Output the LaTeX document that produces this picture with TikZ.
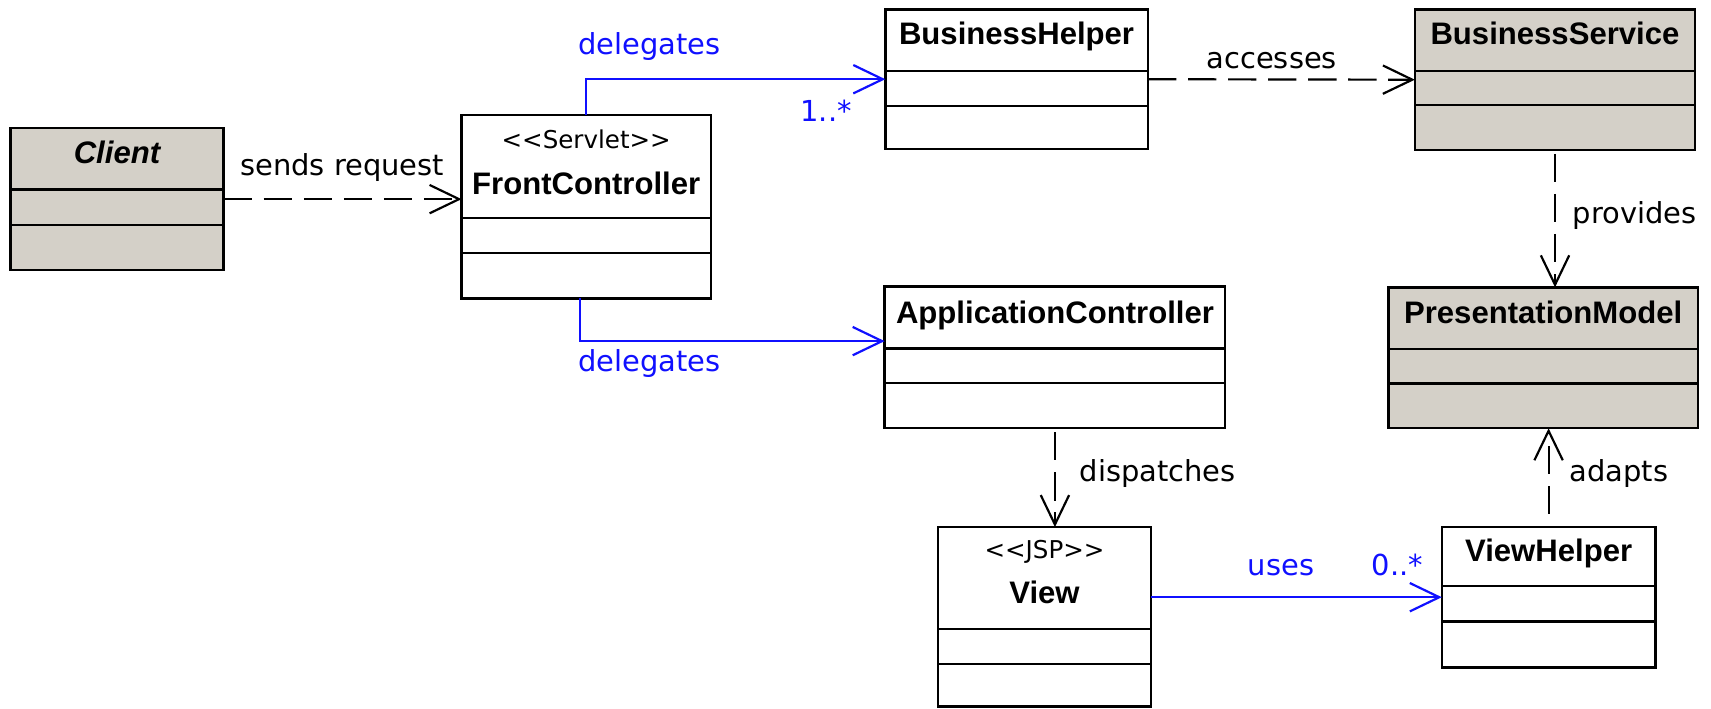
\documentclass[tikz,border=0pt]{standalone}
\usepackage{fontspec}
\setmainfont{DejaVu Sans}
\newfontfamily\titlefont{Liberation Sans}
\usetikzlibrary{arrows.meta}
\definecolor{umlgray}{RGB}{212,208,200}
\definecolor{umlblue}{RGB}{16,16,255}

% UML class box with name, attribute and operation compartments
% #1 name, #2 extra style, #3 left, #4 top, #5 right, #6 bottom, #7 first rule, #8 second rule
\newcommand\umlclass[8]{%
  \node[classbox,#2,anchor=north west,
        minimum width={(#5)-(#3)},minimum height={(#6)-(#4)}] (#1) at (#3,#4) {};
  \draw[compart] (#3,#7) -- (#5,#7) (#3,#8) -- (#5,#8);
}

\begin{document}
\begin{tikzpicture}[x=1pt,y=-1pt,
  classbox/.style={draw=black,line width=2.2pt,fill=white,rectangle,inner sep=0pt,outer sep=0pt},
  shaded/.style={fill=umlgray},
  compart/.style={draw=black,line width=2.2pt},
  classname/.style={font=\titlefont\bfseries\fontsize{28.5}{32}\selectfont,inner sep=0pt,anchor=base},
  stereo/.style={font=\fontsize{22.5}{26}\selectfont,inner sep=0pt,anchor=base},
  lbl/.style={font=\fontsize{26.5}{30}\selectfont,inner sep=0pt,anchor=base},
  navlbl/.style={lbl,text=umlblue},
  opentip/.style={-{Straight Barb[length=27pt,width=26pt]}},
  dependency/.style={opentip,draw=black,line width=2pt,dash pattern=on 26pt off 10.7pt},
  navigable/.style={opentip,draw=umlblue,line width=2pt},
]
\useasboundingbox (0,0) rectangle (1568,649.7);
\fill[white] (0,0) rectangle (1568,649.7);

% classes
\umlclass{client}{shaded}{9.5}{117.5}{205}{247.5}{173.5}{206}
\umlclass{fc}{}{423}{105.5}{651.5}{273.5}{200}{232}
\umlclass{bh}{}{811.3}{8.6}{1052}{136.6}{64.8}{97}
\umlclass{bs}{shaded}{1296.6}{8.6}{1553.5}{137.5}{64.8}{96.5}
\umlclass{ac}{}{810.7}{262.7}{1122.8}{392.5}{319.5}{351}
\umlclass{pm}{shaded}{1272.5}{263.3}{1556}{392.5}{319.8}{351.3}
\umlclass{view}{}{859.6}{483}{1054.8}{647.5}{576.5}{608.5}
\umlclass{vh}{}{1321.3}{483}{1517}{611.6}{537}{569.7}

% class names and stereotypes
\node[classname] (clientname) at (107.2,150) {\itshape Client};
\node[stereo] (fcstereo) at (537.2,136) {<{}<Servlet>{}>};
\node[classname] (fcname) at (537.2,178) {FrontController};
\node[classname] (bhname) at (931.6,41.2) {BusinessHelper};
\node[classname] (bsname) at (1425,41.2) {BusinessService};
\node[classname] (acname) at (966.8,296.5) {ApplicationController};
\node[classname] (pmname) at (1414.2,296.5) {PresentationModel};
\node[stereo] (viewstereo) at (957.2,511.6) {<{}<JSP>{}>};
\node[classname] (viewname) at (957.2,553) {View};
\node[classname] (vhname) at (1419.2,514.8) {ViewHelper};

% relationships
\draw[dependency] (client.east) -- (client.east -| fc.west);
\draw[navigable] (fc.north) |- (bh.west);
\draw[navigable] ([xshift=-5.5pt]fc.south) |- ([yshift=15pt]ac.west);
\draw[dependency] (bh.east) -- (bs.west);
\draw[dependency,shorten <=3.5pt] (bs.south) -- (bs.south |- pm.north);
\draw[dependency,shorten <=3.5pt] (ac.south) -- (ac.south |- view.north);
\draw[navigable] (vh.west -| view.east) -- (vh.west);
\draw[dependency,shorten <=12pt] (vh.north) -- (vh.north |- pm.south);

% relationship labels
\node[lbl] (sendslbl) at (313.5,160.4) {sends request};
\node[navlbl] (deltoplbl) at (595,50.4) {delegates};
\node[navlbl] (multbh) at (757,111.5) {1..*};
\node[lbl] (accesslbl) at (1165.5,62.6) {accesses};
\node[lbl] (provlbl) at (1498,204.7) {provides};
\node[navlbl] (delbotlbl) at (595,340.6) {delegates};
\node[lbl] (displbl) at (1061,441.4) {dispatches};
\node[lbl] (adaptlbl) at (1483.5,441.4) {adapts};
\node[navlbl] (useslbl) at (1174,527) {uses};
\node[navlbl] (multvh) at (1280.5,527) {0..*};
\end{tikzpicture}
\end{document}
